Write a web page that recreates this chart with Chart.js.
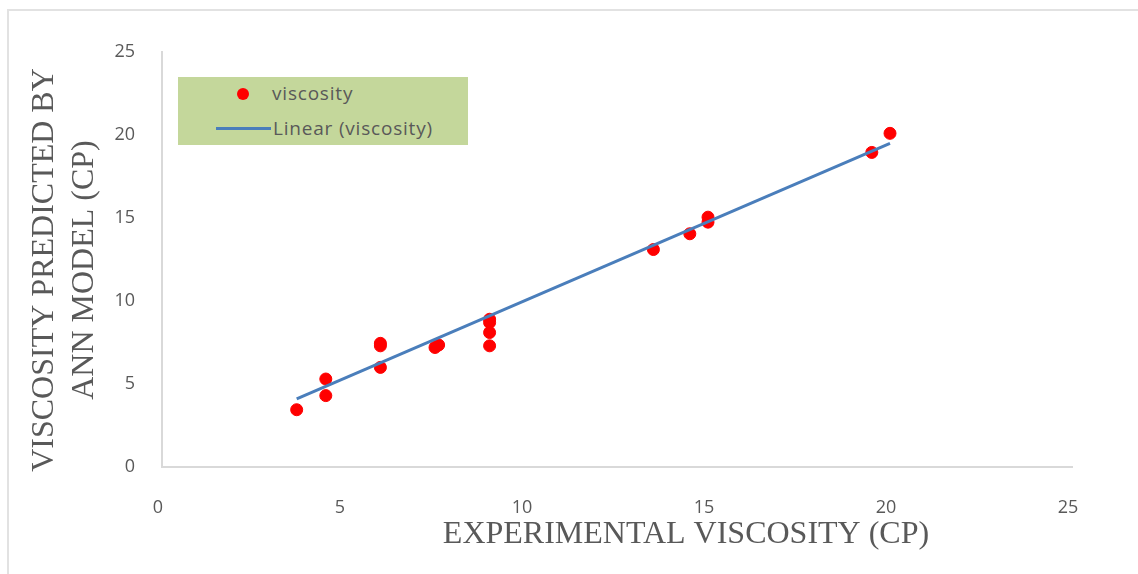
<!DOCTYPE html>
<html>
<head>
<meta charset="utf-8">
<script src="https://cdn.jsdelivr.net/npm/chart.js@4"></script>
<style>
html,body{margin:0;padding:0;background:#fff;}
#wrap{position:relative;width:1138px;height:574px;overflow:hidden;}
canvas{display:block;}
#legend{position:absolute;left:178px;top:77px;width:290px;height:68px;background:#c4d79b;font-family:'Open Sans',Arial,sans-serif;font-size:19px;letter-spacing:0.8px;color:#595959;}
#legend .dot{position:absolute;left:59px;top:11px;width:12px;height:12px;border-radius:50%;background:#ff0000;}
#legend .ln{position:absolute;left:38px;top:50px;width:55px;height:3px;background:#4a7ebb;}
#legend .t{position:absolute;line-height:22px;white-space:nowrap;}
</style>
</head>
<body>
<div id="wrap">
<canvas id="c" width="1138" height="574"></canvas>
<div id="legend">
  <div class="dot"></div><div class="t" id="l1" style="left:94px;top:5px;"></div>
  <div class="ln"></div><div class="t" id="l2" style="left:95px;top:40px;"></div>
</div>
</div>
<script>
// ---- data ----
const seriesName = 'viscosity';
const trendName = 'Linear (viscosity)';
const xTitle = 'EXPERIMENTAL VISCOSITY (CP)';
const yTitleLines = ['VISCOSITY PREDICTED BY', 'ANN MODEL (CP)'];
const experimental = [3.7, 4.5, 4.5, 6.0, 6.0, 6.0, 7.5, 7.6, 9.0, 9.0, 9.0, 9.0, 13.5, 14.5, 15.0, 15.0, 19.5, 20.0];
const predicted    = [3.45, 5.3, 4.3, 7.45, 7.3, 6.0, 7.2, 7.35, 8.9, 8.7, 8.1, 7.3, 13.1, 14.05, 15.05, 14.75, 18.95, 20.1];
// linear trendline end points
const trendX = [3.7, 20.0];
const trendY = [4.1, 19.5];
const axisMin = 0, axisMax = 25, axisStep = 5;

document.getElementById('l1').textContent = seriesName;
document.getElementById('l2').textContent = trendName;

const points = experimental.map((x,i)=>({x, y: predicted[i]}));
const trend = trendX.map((x,i)=>({x, y: trendY[i]}));

const textColor = '#595959';
const tickFont = {family:"'Open Sans', Arial, sans-serif", size:18};

const deco = {
  id:'deco',
  beforeDraw(chart){
    const ctx = chart.ctx;
    ctx.save();
    ctx.fillStyle = '#fff';
    ctx.fillRect(0,0,chart.width,chart.height);
    ctx.strokeStyle = '#e2e2e2';
    ctx.lineWidth = 2;
    ctx.beginPath();
    ctx.moveTo(8, chart.height); ctx.lineTo(8, 10); ctx.lineTo(chart.width, 10);
    ctx.stroke();
    ctx.restore();
  },
  afterDraw(chart){
    const ctx = chart.ctx;
    ctx.save();
    ctx.fillStyle = textColor;
    ctx.font = "32px 'Liberation Serif', 'Times New Roman', serif";
    ctx.textAlign = 'center';
    ctx.textBaseline = 'middle';
    ctx.fillText(xTitle, 686, 535);
    ctx.translate(0, 270);
    ctx.rotate(-Math.PI/2);
    ctx.fillText(yTitleLines[0], 0, 45);
    ctx.fillText(yTitleLines[1], 0, 85);
    ctx.restore();
  }
};

new Chart(document.getElementById('c'), {
  type: 'scatter',
  data: {
    datasets: [
      {label: trendName, type:'line', data: trend, borderColor:'#4a7ebb', borderWidth:3, pointRadius:0, fill:false, order:0},
      {label: seriesName, data: points, backgroundColor:'#ff0000', borderColor:'#ff0000', pointRadius:6, pointHoverRadius:6, order:1}
    ]
  },
  options: {
    responsive:false,
    animation:false,
    events:[],
    layout:{padding:{left:0, top:52, right:66, bottom:0}},
    plugins:{legend:{display:false}, tooltip:{enabled:false}},
    scales:{
      x:{
        type:'linear', min:axisMin, max:axisMax,
        ticks:{stepSize:axisStep, color:textColor, font:tickFont, padding:30, labelOffset:-4, maxRotation:0},
        grid:{display:true, color:'rgba(0,0,0,0)', drawTicks:false},
        border:{display:true, color:'#d9d9d9', width:2},
        afterFit(s){ s.height = 107; }
      },
      y:{
        type:'linear', min:axisMin, max:axisMax,
        ticks:{stepSize:axisStep, color:textColor, font:tickFont, padding:27},
        grid:{display:true, color:'rgba(0,0,0,0)', drawTicks:false},
        border:{display:true, color:'#d9d9d9', width:2},
        afterFit(s){ s.width = 162; }
      }
    }
  },
  plugins:[deco]
});
</script>
</body>
</html>
